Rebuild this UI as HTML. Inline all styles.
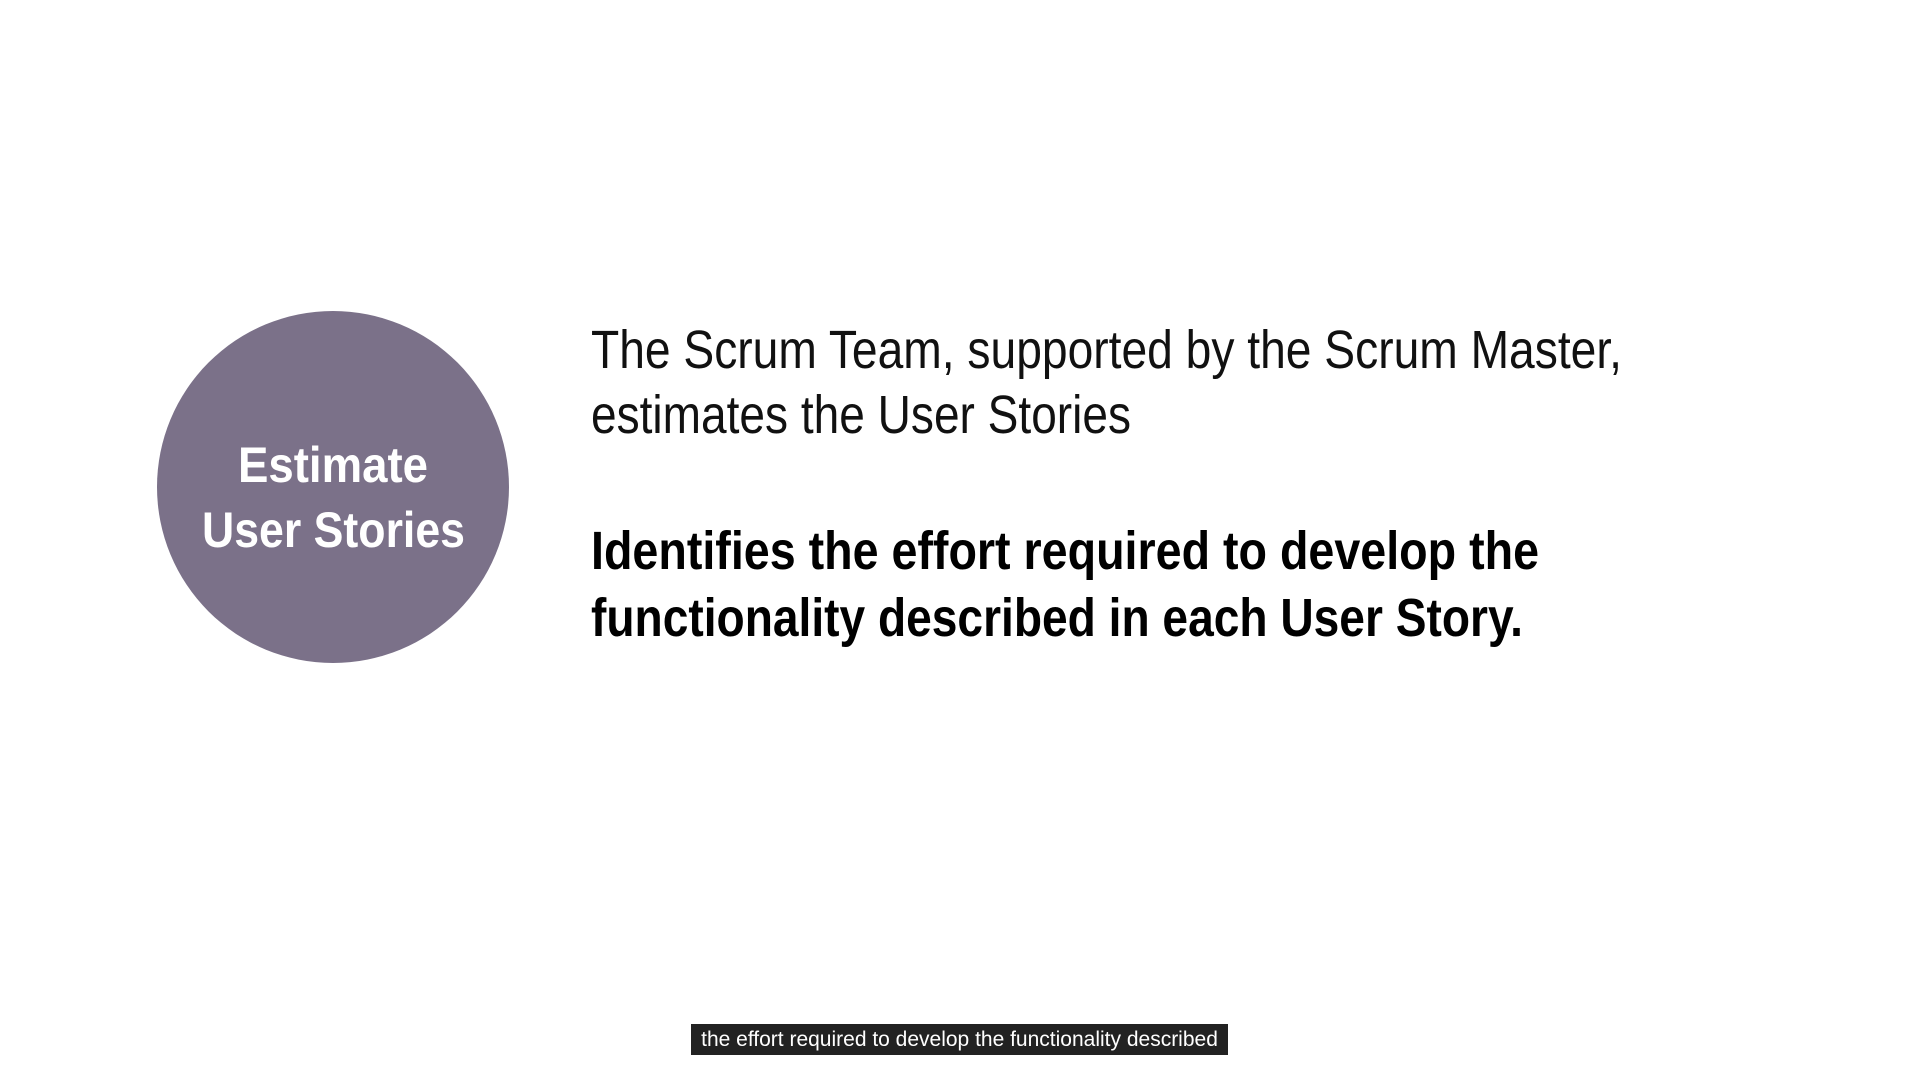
<!DOCTYPE html>
<html><head><meta charset="utf-8">
<style>
html,body{margin:0;padding:0;width:1920px;height:1080px;background:#fff;overflow:hidden;font-family:"Liberation Sans",sans-serif;}
.circle{position:absolute;left:157px;top:311px;width:352px;height:352px;border-radius:50%;background:#7b7189;}
.fit{position:absolute;white-space:nowrap;transform-origin:0 0;line-height:1;}
.ct{color:#fff;font-weight:bold;font-size:50px;}
.t{color:#111;font-size:54px;}
.b{color:#000;font-size:54px;font-weight:bold;}
.cap{position:absolute;left:691px;top:1024px;width:537px;height:31px;background:#222;color:#fff;font-size:21px;line-height:31px;text-align:center;}
</style></head><body>
<div class="circle"></div>
<span class="fit ct" data-w="190" data-cx="333" style="top:440px">Estimate</span>
<span class="fit ct" data-w="263" data-cx="333" style="top:505px">User Stories</span>
<span class="fit t" data-w="1031" style="left:591px;top:323px">The Scrum Team, supported by the Scrum Master,</span>
<span class="fit t" data-w="540" style="left:591px;top:388px">estimates the User Stories</span>
<span class="fit b" data-w="948" style="left:591px;top:524px">Identifies the effort required to develop the</span>
<span class="fit b" data-w="932" style="left:591px;top:591px">functionality described in each User Story.</span>
<div class="cap">the effort required to develop the functionality described</div>
<script>
document.querySelectorAll('.fit').forEach(function(el){
  var w=el.getBoundingClientRect().width;
  var target=+el.getAttribute('data-w');
  var s=target/w;
  el.style.transform='scaleX('+s+')';
  var cx=el.getAttribute('data-cx');
  if(cx){el.style.left=(+cx-target/2)+'px';}
});
</script>
</body></html>
